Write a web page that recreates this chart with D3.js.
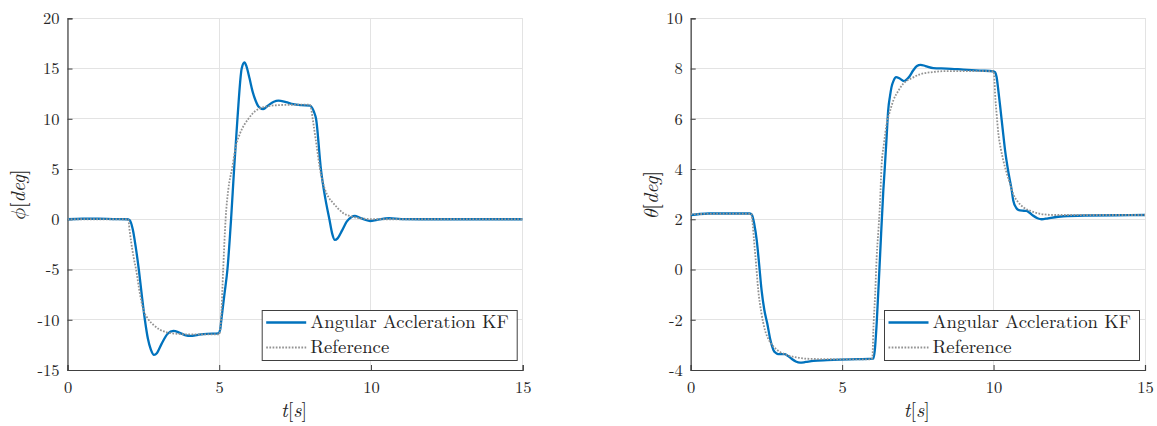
<!DOCTYPE html>
<html>
<head>
<meta charset="utf-8">
<script src="https://cdn.jsdelivr.net/npm/d3@7"></script>
<style>
  body { margin: 0; background: #fff; }
  svg { display: block; }
</style>
</head>
<body>
<svg id="chart" width="1157" height="426"></svg>
<script>
// ---- data -------------------------------------------------------------
const timeTicks = [0, 5, 10, 15];
const phiTicks = [-15, -10, -5, 0, 5, 10, 15, 20];
const thetaTicks = [-4, -2, 0, 2, 4, 6, 8, 10];
const seriesNames = ["Angular Accleration KF", "Reference"];

// roll angle, Kalman filter estimate
const phiKfT = [0, 0.5, 1.0, 1.5, 1.95, 2.05, 2.15, 2.25, 2.35, 2.45, 2.55, 2.65, 2.75, 2.85, 2.95, 3.1, 3.3, 3.49, 3.7, 3.9, 4.05, 4.3, 4.6, 4.97,
  5.03, 5.07, 5.17, 5.27, 5.39, 5.49, 5.6, 5.74, 5.83, 5.9, 6.0, 6.1, 6.2, 6.3, 6.45, 6.6, 6.8, 6.95, 7.2, 7.44, 7.7, 7.99,
  8.06, 8.12, 8.19, 8.35, 8.5, 8.63, 8.72, 8.81, 8.9, 9.05, 9.2, 9.35, 9.47, 9.6, 9.8, 9.97, 10.2, 10.6, 11, 12, 13, 14, 15];
const phiKfV = [0, 0.05, 0.05, 0.02, 0, -0.1, -1.0, -2.8, -5.0, -7.6, -10.0, -11.9, -13.0, -13.5, -13.3, -12.4, -11.4, -11.1, -11.3, -11.55, -11.6, -11.5, -11.4, -11.35,
  -11.0, -10.0, -7.5, -5.0, 0, 5.0, 10.0, 15.0, 15.6, 15.2, 14.0, 12.7, 11.8, 11.2, 10.96, 11.3, 11.7, 11.8, 11.65, 11.45, 11.35, 11.3,
  11.1, 10.7, 10.0, 5.0, 2.0, 0, -1.4, -2.06, -1.9, -1.1, -0.24, 0.2, 0.33, 0.2, -0.05, -0.17, -0.05, 0.1, 0.02, 0, 0, 0, 0];

// roll angle, reference
const phiRefT = [0, 1, 2.0, 2.05, 2.1, 2.18, 2.26, 2.38, 2.5, 2.65, 2.83, 3.05, 3.27, 3.6, 4.0, 5.0,
  5.03, 5.06, 5.13, 5.21, 5.3, 5.42, 5.55, 5.68, 5.96, 6.2, 6.45, 6.9, 7.5, 7.99,
  8.03, 8.08, 8.2, 8.32, 8.48, 8.6, 8.76, 9.09, 9.4, 9.8, 10.2, 12, 15];
const phiRefV = [0, 0, 0, -1.2, -2.3, -3.8, -5.0, -7.3, -9.0, -9.9, -10.5, -11.0, -11.25, -11.4, -11.45, -11.45,
  -11.0, -10.0, -5.0, 0, 3.0, 5.0, 7.3, 8.5, 10.0, 10.8, 11.15, 11.35, 11.4, 11.4,
  11.0, 10.0, 7.5, 5.0, 3.0, 2.2, 1.6, 0.6, 0.25, 0.05, 0, 0, 0];

// pitch angle, Kalman filter estimate
const thetaKfT = [0, 0.3, 0.6, 1.0, 1.5, 1.95, 2.02, 2.1, 2.18, 2.26, 2.34, 2.43, 2.53, 2.63, 2.73, 2.82, 2.89, 3.0, 3.1, 3.2, 3.33, 3.47, 3.61, 3.8, 4.05, 4.5, 4.93, 5.5, 6.03,
  6.08, 6.14, 6.25, 6.36, 6.41, 6.47, 6.52, 6.58, 6.63, 6.7, 6.78, 6.9, 7.04, 7.2, 7.35, 7.47, 7.59, 7.75, 8.01, 8.45, 9.0, 9.55, 10.0,
  10.05, 10.1, 10.16, 10.22, 10.3, 10.38, 10.5, 10.6, 10.65, 10.75, 10.87, 11.0, 11.09, 11.2, 11.3, 11.45, 11.59, 11.8, 12.3, 13, 14, 15];
const thetaKfV = [2.17, 2.21, 2.23, 2.23, 2.23, 2.23, 2.18, 1.8, 1.17, 0.2, -0.82, -1.6, -2.16, -2.8, -3.2, -3.33, -3.37, -3.37, -3.37, -3.43, -3.55, -3.66, -3.71, -3.68, -3.64, -3.61, -3.59, -3.57, -3.55,
  -3.2, -2.16, 0.49, 3.15, 4.08, 5.3, 6.33, 6.9, 7.26, 7.52, 7.66, 7.6, 7.5, 7.65, 7.93, 8.1, 8.15, 8.1, 8.02, 8.0, 7.96, 7.92, 7.89,
  7.85, 7.66, 7.1, 6.47, 5.6, 4.74, 3.8, 3.15, 2.75, 2.45, 2.35, 2.34, 2.33, 2.25, 2.15, 2.04, 2.0, 2.04, 2.12, 2.15, 2.16, 2.17];

// pitch angle, reference
const thetaRefT = [0, 1, 2.0, 2.04, 2.09, 2.16, 2.23, 2.33, 2.45, 2.58, 2.73, 2.95, 3.17, 3.5, 3.83, 4.5, 5.95,
  6.0, 6.03, 6.09, 6.14, 6.2, 6.25, 6.3, 6.38, 6.47, 6.58, 6.69, 6.85, 7.02, 7.3, 7.57, 8.0, 8.45, 9.5, 10.0,
  10.03, 10.05, 10.1, 10.16, 10.24, 10.32, 10.43, 10.54, 10.65, 10.8, 10.98, 11.25, 11.53, 12, 15];
const thetaRefV = [2.2, 2.22, 2.22, 1.9, 1.17, 0.2, -0.82, -1.7, -2.4, -2.8, -3.06, -3.28, -3.4, -3.5, -3.55, -3.57, -3.58,
  -3.5, -2.43, -1.0, 0.49, 1.6, 2.62, 4.08, 5.0, 5.8, 6.3, 6.73, 7.1, 7.4, 7.62, 7.77, 7.86, 7.9, 7.9, 7.89,
  7.5, 7.0, 6.2, 5.4, 4.8, 4.35, 3.85, 3.42, 3.0, 2.7, 2.48, 2.32, 2.22, 2.17, 2.17];

// ---- drawing ----------------------------------------------------------
const svg = d3.select("#chart");
const kfColor = "#0072BD";
const refColor = "#939393";
const axisColor = "#404040";
const textColor = "#262626";
const gridColor = "#e3e3e3";
const texFont = "Latin Modern Roman, Liberation Serif, serif";
const mathFont = "Latin Modern Math, Latin Modern Roman, Liberation Serif, serif";

function drawPanel(cfg) {
  const x = d3.scaleLinear().domain([0, 15]).range([cfg.left, cfg.right]);
  const y = d3.scaleLinear().domain(cfg.yDomain).range([cfg.bottom, cfg.top]);
  const g = svg.append("g");

  // grid
  g.append("g").selectAll("line").data(timeTicks).join("line")
    .attr("x1", d => x(d)).attr("x2", d => x(d))
    .attr("y1", cfg.top).attr("y2", cfg.bottom)
    .attr("stroke", gridColor).attr("stroke-width", 1).attr("shape-rendering", "crispEdges");
  g.append("g").selectAll("line").data(cfg.yTicks).join("line")
    .attr("x1", cfg.left).attr("x2", cfg.right)
    .attr("y1", d => y(d)).attr("y2", d => y(d))
    .attr("stroke", gridColor).attr("stroke-width", 1).attr("shape-rendering", "crispEdges");

  // axes (ticks point inward)
  const xAxis = d3.axisBottom(x).tickValues(timeTicks).tickSize(-5).tickPadding(11).tickFormat(d3.format("d"));
  const yAxis = d3.axisLeft(y).tickValues(cfg.yTicks).tickSize(-5).tickPadding(8).tickFormat(d3.format("d"));
  const gx = g.append("g").attr("transform", `translate(0,${cfg.bottom})`).call(xAxis);
  const gy = g.append("g").attr("transform", `translate(${cfg.left},0)`).call(yAxis);
  [gx, gy].forEach(a => {
    a.attr("font-family", null).attr("font-size", null);
    a.select(".domain").attr("stroke", axisColor).attr("stroke-width", 1.2);
    a.selectAll(".tick line").attr("stroke", axisColor).attr("stroke-width", 1);
    a.selectAll(".tick text").attr("fill", textColor)
      .attr("font-family", texFont).attr("font-size", 16.5);
  });
  gx.selectAll(".tick text").attr("dy", "0.71em");
  gy.selectAll(".tick text").text(d => d < 0 ? "-" + Math.abs(d) : d);

  // curves
  const clipId = "clip-" + cfg.key;
  svg.append("clipPath").attr("id", clipId).append("rect")
    .attr("x", cfg.left).attr("y", cfg.top - 2)
    .attr("width", cfg.right - cfg.left).attr("height", cfg.bottom - cfg.top + 4);
  const line = d3.line().x(d => x(d[0])).y(d => y(d[1])).curve(d3.curveMonotoneX);
  const kf = d3.zip(cfg.kfT, cfg.kfV);
  const ref = d3.zip(cfg.refT, cfg.refV);
  const plot = g.append("g").attr("clip-path", `url(#${clipId})`);
  plot.append("path").datum(kf).attr("d", line)
    .attr("fill", "none").attr("stroke", kfColor).attr("stroke-width", 2.3)
    .attr("stroke-linejoin", "round");
  plot.append("path").datum(ref).attr("d", line)
    .attr("fill", "none").attr("stroke", refColor).attr("stroke-width", 1.8)
    .attr("stroke-dasharray", "1.7 1.5");

  // axis labels
  const xl = g.append("text").attr("x", (cfg.left + cfg.right) / 2 - 1).attr("y", 417)
    .attr("text-anchor", "middle").attr("font-family", texFont).attr("font-size", 20).attr("fill", textColor);
  xl.append("tspan").attr("font-style", "italic").text("t");
  xl.append("tspan").text("[");
  xl.append("tspan").attr("font-style", "italic").text("s");
  xl.append("tspan").text("]");

  const yl = g.append("text")
    .attr("transform", `translate(${cfg.left - cfg.yLabelOffset},${(cfg.top + cfg.bottom) / 2 + 1}) rotate(-90)`)
    .attr("text-anchor", "middle").attr("font-family", texFont).attr("font-size", 20).attr("fill", textColor);
  yl.append("tspan").attr("font-family", mathFont).attr("font-style", "italic").text(cfg.symbol);
  yl.append("tspan").text("[");
  yl.append("tspan").attr("font-style", "italic").text("deg");
  yl.append("tspan").text("]");

  // legend
  const lw = 255, lh = 50;
  const lx = cfg.right - 6 - lw, ly = cfg.bottom - 10 - lh;
  const lg = g.append("g").attr("transform", `translate(${lx},${ly})`);
  lg.append("rect").attr("x", 0.5).attr("y", 0.5).attr("width", lw).attr("height", lh)
    .attr("fill", "#fff").attr("stroke", axisColor).attr("stroke-width", 1);
  const rows = [
    { name: seriesNames[0], color: kfColor, width: 2.3, dash: null },
    { name: seriesNames[1], color: refColor, width: 1.8, dash: "1.7 1.5" }
  ];
  rows.forEach((r, i) => {
    const ry = 12.5 + i * 25;
    lg.append("line").attr("x1", 4.5).attr("x2", 44.5).attr("y1", ry).attr("y2", ry)
      .attr("stroke", r.color).attr("stroke-width", r.width)
      .attr("stroke-dasharray", r.dash);
    lg.append("text").attr("x", 48.5).attr("y", ry + 5.5)
      .attr("font-family", texFont).attr("font-size", 18.8).attr("fill", textColor).text(r.name);
  });
}

drawPanel({
  key: "phi", left: 67.5, right: 522.7, top: 18.3, bottom: 370,
  yDomain: [-15, 20], yTicks: phiTicks, symbol: "\u03D5", yLabelOffset: 43,
  kfT: phiKfT, kfV: phiKfV, refT: phiRefT, refV: phiRefV
});
drawPanel({
  key: "theta", left: 690.7, right: 1145, top: 18.3, bottom: 370,
  yDomain: [-4, 10], yTicks: thetaTicks, symbol: "\u03B8", yLabelOffset: 33,
  kfT: thetaKfT, kfV: thetaKfV, refT: thetaRefT, refV: thetaRefV
});
</script>
</body>
</html>
